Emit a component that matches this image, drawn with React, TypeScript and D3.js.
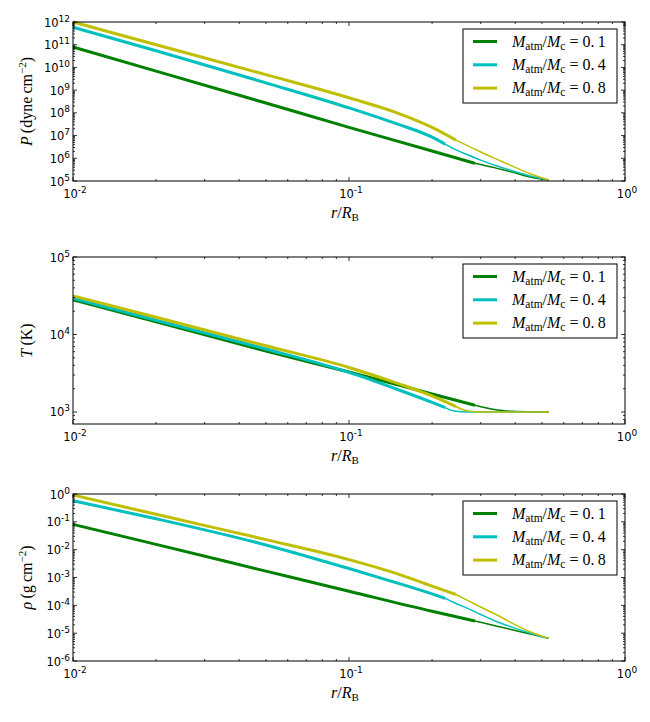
import { useEffect, useRef } from 'react';
import * as d3 from 'd3';

// three runs, labelled by atmosphere / core mass ratio
const RUN_LABELS = ['0.1', '0.4', '0.8'];
const RUN_COLORS = ['#008000', '#00bfbf', '#bfbf00'];

// radius grid of each run (r / R_B)
const R_01 = [0.01, 0.02, 0.05, 0.1, 0.2, 0.286, 0.344, 0.393, 0.453, 0.53];
const R_04 = [0.01, 0.02, 0.05, 0.1, 0.15, 0.2, 0.223, 0.24, 0.27, 0.3, 0.344, 0.393, 0.453, 0.53];
const R_08 = [0.01, 0.02, 0.05, 0.1, 0.15, 0.2, 0.244, 0.27, 0.3, 0.344, 0.393, 0.453, 0.53];
// the profile is drawn thick inside this radius, thin outside
const THICK_UNTIL = [0.286, 0.223, 0.244];

// pressure, dyne cm^-2
const P_01 = [7.9e10, 6.9e9, 2.7e8, 2.3e7, 2.1e6, 6.0e5, 3.6e5, 2.4e5, 1.5e5, 1.1e5];
const P_04 = [5.9e11, 5.4e10, 2.1e9, 1.66e8, 3.2e7, 8.5e6, 4.2e6, 2.6e6, 1.4e6, 8.3e5, 4.6e5, 2.75e5, 1.66e5, 1.1e5];
const P_08 = [1.0e12, 1.0e11, 4.8e9, 4.6e8, 9.8e7, 2.3e7, 6.3e6, 3.5e6, 1.9e6, 8.9e5, 4.4e5, 2.1e5, 1.1e5];

// temperature, K
const T_01 = [28000, 14600, 6100, 3280, 1710, 1220, 1062, 1020, 1005, 1000];
const T_04 = [29400, 15300, 6500, 3240, 1950, 1330, 1140, 1030, 1000, 1000, 1000, 1000, 1000, 1000];
const T_08 = [31500, 16700, 7150, 3750, 2340, 1610, 1170, 1030, 1000, 1000, 1000, 1000, 1000];

// density, g cm^-3
const RHO_01 = [8.1e-2, 1.55e-2, 1.7e-3, 3.2e-4, 6.1e-5, 2.75e-5, 1.78e-5, 1.3e-5, 9.3e-6, 6.5e-6];
const RHO_04 = [0.575, 0.129, 1.48e-2, 2.1e-3, 6.3e-4, 2.57e-4, 1.78e-4, 1.26e-4, 7.6e-5, 4.7e-5, 2.57e-5, 1.6e-5, 1.0e-5, 6.5e-6];
const RHO_08 = [0.92, 0.186, 2.3e-2, 4.4e-3, 1.35e-3, 4.9e-4, 2.45e-4, 1.48e-4, 8.7e-5, 4.5e-5, 2.2e-5, 1.12e-5, 6.5e-6];

// tick exponents
const X_EXP = [-2, -1, 0];
const P_EXP = [5, 6, 7, 8, 9, 10, 11, 12];
const T_EXP = [3, 4, 5];
const RHO_EXP = [-6, -5, -4, -3, -2, -1, 0];

const RADII = [R_01, R_04, R_08];

const MATH_FONT = '"Liberation Serif", "Times New Roman", serif';
const TICK_FONT = '"DejaVu Sans", sans-serif';

type Panel = {
  top: number;
  bottom: number;
  domain: [number, number];
  exps: number[];
  runs: number[][];
  label: 'P' | 'T' | 'rho';
};

const LEFT = 73;
const RIGHT = 625;

const PANELS: Panel[] = [
  { top: 22, bottom: 181, domain: [1e5, 1e12], exps: P_EXP, runs: [P_01, P_04, P_08], label: 'P' },
  { top: 257, bottom: 424, domain: [700, 1e5], exps: T_EXP, runs: [T_01, T_04, T_08], label: 'T' },
  { top: 494, bottom: 661, domain: [1e-6, 1], exps: RHO_EXP, runs: [RHO_01, RHO_04, RHO_08], label: 'rho' },
];

function minorTicks(lo: number, hi: number) {
  const out: number[] = [];
  for (let k = Math.floor(Math.log10(lo)); k <= Math.ceil(Math.log10(hi)); k++) {
    for (let m = 2; m <= 9; m++) {
      const v = m * Math.pow(10, k);
      if (v > lo * 1.0001 && v < hi * 0.9999) out.push(v);
    }
  }
  return out;
}

function drawPanel(svg: d3.Selection<SVGSVGElement, unknown, null, undefined>, p: Panel) {
  const x = d3.scaleLog().domain([0.01, 1]).range([LEFT, RIGHT]);
  const y = d3.scaleLog().domain(p.domain).range([p.bottom, p.top]);
  const g = svg.append('g');

  // profiles
  p.runs.forEach((vals, i) => {
    const pts: [number, number][] = RADII[i].map((r, j) => [r, vals[j]]);
    const line = d3.line<[number, number]>()
      .x(d => x(d[0]))
      .y(d => y(d[1]))
      .curve(d3.curveMonotoneX);
    const split = THICK_UNTIL[i];
    g.append('path')
      .attr('d', line(pts.filter(d => d[0] >= split - 1e-9)))
      .attr('fill', 'none')
      .attr('stroke', RUN_COLORS[i])
      .attr('stroke-width', 1.5);
    g.append('path')
      .attr('d', line(pts.filter(d => d[0] <= split + 1e-9)))
      .attr('fill', 'none')
      .attr('stroke', RUN_COLORS[i])
      .attr('stroke-width', 3);
  });

  // ticks on all four sides, pointing in
  const ticks = g.append('g').attr('stroke', '#000').attr('stroke-width', 0.8);
  const xMajor = X_EXP.map(e => Math.pow(10, e));
  const xMinor = minorTicks(0.01, 1);
  [...xMajor.map(v => [v, 4]), ...xMinor.map(v => [v, 2])].forEach(([v, len]) => {
    ticks.append('line').attr('x1', x(v)).attr('x2', x(v)).attr('y1', p.bottom).attr('y2', p.bottom - len);
    ticks.append('line').attr('x1', x(v)).attr('x2', x(v)).attr('y1', p.top).attr('y2', p.top + len);
  });
  const yMajor = p.exps.map(e => Math.pow(10, e));
  const yMinor = minorTicks(p.domain[0], p.domain[1]);
  [...yMajor.map(v => [v, 4]), ...yMinor.map(v => [v, 2])].forEach(([v, len]) => {
    ticks.append('line').attr('y1', y(v)).attr('y2', y(v)).attr('x1', LEFT).attr('x2', LEFT + len);
    ticks.append('line').attr('y1', y(v)).attr('y2', y(v)).attr('x1', RIGHT).attr('x2', RIGHT - len);
  });

  // frame
  g.append('rect')
    .attr('x', LEFT).attr('y', p.top)
    .attr('width', RIGHT - LEFT).attr('height', p.bottom - p.top)
    .attr('fill', 'none').attr('stroke', '#000').attr('stroke-width', 1);

  // tick labels
  const power = (sel: d3.Selection<SVGTextElement, unknown, null, undefined>, e: number) => {
    sel.append('tspan').text('10');
    sel.append('tspan').attr('font-size', 9).attr('dy', -5).text(e < 0 ? `-${-e}` : `${e}`);
  };
  X_EXP.forEach(e => {
    const t = g.append('text')
      .attr('x', x(Math.pow(10, e)) + 2)
      .attr('y', p.bottom + 17)
      .attr('text-anchor', 'middle')
      .attr('font-family', TICK_FONT)
      .attr('font-size', 11.5);
    power(t as any, e);
  });
  p.exps.forEach(e => {
    const t = g.append('text')
      .attr('x', LEFT - 3)
      .attr('y', y(Math.pow(10, e)) + 4.5)
      .attr('text-anchor', 'end')
      .attr('font-family', TICK_FONT)
      .attr('font-size', 11.5);
    power(t as any, e);
  });

  // x label r / R_B
  const xl = g.append('text')
    .attr('x', (LEFT + RIGHT) / 2 - 18)
    .attr('y', p.bottom + 37)
    .attr('font-family', MATH_FONT)
    .attr('font-size', 16);
  xl.append('tspan').attr('font-style', 'italic').text('r');
  xl.append('tspan').text('/');
  xl.append('tspan').attr('font-style', 'italic').text('R');
  xl.append('tspan').attr('font-size', 11).attr('dy', 3).text('B');

  // y label
  const cy = (p.top + p.bottom) / 2;
  const yl = g.append('text')
    .attr('transform', `translate(32,${cy}) rotate(-90)`)
    .attr('text-anchor', 'middle')
    .attr('font-family', MATH_FONT)
    .attr('font-size', 16);
  if (p.label === 'P') {
    yl.append('tspan').attr('font-style', 'italic').text('P');
    yl.append('tspan').text('\u2009(dyne\u2009cm');
    yl.append('tspan').attr('font-size', 11).attr('dy', -6).text('\u22122');
    yl.append('tspan').attr('dy', 6).text(')');
  } else if (p.label === 'T') {
    yl.append('tspan').attr('font-style', 'italic').text('T');
    yl.append('tspan').text('\u2009(K)');
  } else {
    yl.append('tspan').attr('font-style', 'italic').text('\u03c1');
    yl.append('tspan').text('\u2009(g\u2009cm');
    yl.append('tspan').attr('font-size', 11).attr('dy', -6).text('\u22122');
    yl.append('tspan').attr('dy', 6).text(')');
  }

  // legend
  const lg = g.append('g').attr('transform', `translate(${RIGHT - 162},${p.top + 7})`);
  lg.append('rect')
    .attr('width', 154).attr('height', 74)
    .attr('fill', '#fff').attr('stroke', '#000').attr('stroke-width', 1);
  RUN_LABELS.forEach((lab, i) => {
    const ry = 12.5 + i * 23.3;
    lg.append('line')
      .attr('x1', 10).attr('x2', 34).attr('y1', ry).attr('y2', ry)
      .attr('stroke', RUN_COLORS[i]).attr('stroke-width', 3);
    const t = lg.append('text')
      .attr('x', 49).attr('y', ry + 5)
      .attr('font-family', MATH_FONT)
      .attr('font-size', 16);
    t.append('tspan').attr('font-style', 'italic').text('M');
    t.append('tspan').attr('font-size', 11.5).attr('dy', 3).text('atm');
    t.append('tspan').attr('dy', -3).text('/');
    t.append('tspan').attr('font-style', 'italic').text('M');
    t.append('tspan').attr('font-size', 11.5).attr('dy', 3).text('c');
    t.append('tspan').attr('dy', -3).text(` = ${lab.replace('.', '.\u2009')}`);
  });
}

export default function App() {
  const svgRef = useRef<SVGSVGElement>(null);

  useEffect(() => {
    document.body.style.margin = '0';
    if (!svgRef.current) return;
    const svg = d3.select(svgRef.current);
    svg.selectAll('*').remove();
    PANELS.forEach(p => drawPanel(svg, p));
  }, []);

  return (
    <svg ref={svgRef} width={650} height={722} style={{ display: 'block', background: '#fff' }} />
  );
}
